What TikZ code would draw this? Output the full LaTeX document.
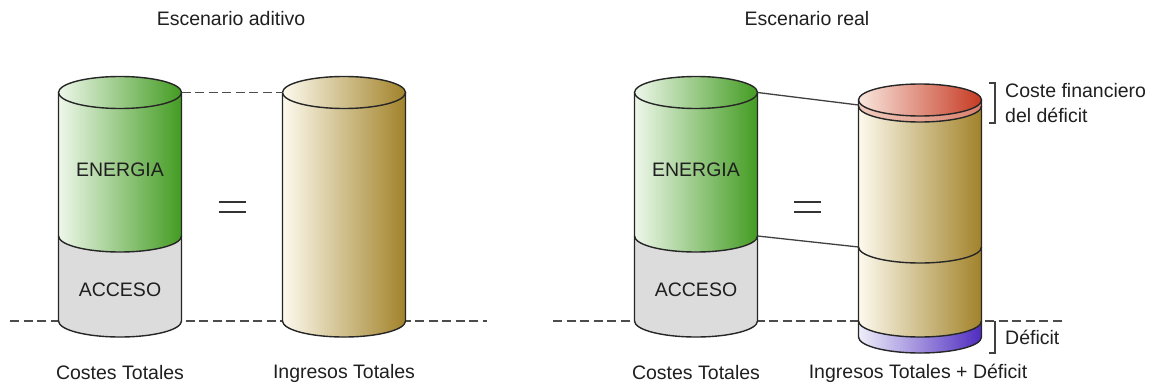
\documentclass[tikz,border=0pt]{standalone}
\usepackage{fontspec}
\setmainfont{Liberation Sans}
\definecolor{gL}{HTML}{EEF7EA}
\definecolor{gR}{HTML}{439C22}
\definecolor{accgrey}{HTML}{DCDCDC}
\definecolor{tL}{HTML}{FDFAEE}
\definecolor{tR}{HTML}{A2832A}
\definecolor{rL}{HTML}{F9E6DE}
\definecolor{rR}{HTML}{C63A22}
\definecolor{pL}{HTML}{EEEEF9}
\definecolor{pR}{HTML}{4F2CC0}
\definecolor{lipL}{HTML}{F2CDBF}
\definecolor{lipR}{HTML}{D9806C}
\begin{document}
\begin{tikzpicture}[x=1pt,y=1pt,
  lbl/.style={font=\fontsize{19.5}{23}\selectfont, text=black!88, inner sep=0pt},
  outl/.style={draw=black!85, line width=1.4pt},
  dsh/.style={draw=black!70, line width=1.3pt, dash pattern=on 9pt off 4.5pt},
  conn/.style={draw=black!75, line width=1.3pt},
  eqs/.style={draw=black!80, line width=1.7pt},
  shgreen/.style={left color=gL, right color=gR},
  shtan/.style={left color=tL, right color=tR},
  shred/.style={left color=rL, right color=rR},
  shlip/.style={left color=lipL, right color=lipR},
  shpurple/.style={left color=pL, right color=pR},
  er/.style={x radius=61.5, y radius=16}
]
\useasboundingbox (0,0) rectangle (1150,-385);

% ---------- dashed baselines ----------
\coordinate (dlA) at (10,-321);
\coordinate (dlB) at (487,-321);
\coordinate (drA) at (553,-321);
\coordinate (drB) at (1062,-321);
\draw[dsh] (dlA) -- (dlB);
\draw[dsh] (drA) -- (drB);

% ---------- cost cylinder macro (cx) ----------
\newcommand\costcyl[2]{%
  \fill[shgreen] ({#1-61.5},-92.5) -- ({#1-61.5},-236)
     arc[start angle=180,end angle=360,er] -- ({#1+61.5},-92.5) -- cycle;
  \fill[accgrey] ({#1-61.5},-236) arc[start angle=180,end angle=360,er]
     -- ({#1+61.5},-321) arc[start angle=0,end angle=-180,er] -- cycle;
  \draw[outl] ({#1-61.5},-92.5) -- ({#1-61.5},-321)
     arc[start angle=180,end angle=360,er] -- ({#1+61.5},-92.5);
  \draw[outl] ({#1-61.5},-236) arc[start angle=180,end angle=360,er];
  \path[shgreen,outl] (#1,-92.5) ellipse[er];
  \coordinate (#2tl) at ({#1-61.5},-92.5);
  \coordinate (#2tr) at ({#1+61.5},-92.5);
  \coordinate (#2mr) at ({#1+61.5},-236);
  \node[lbl] (#2en) at (#1,-170) {ENERGIA};
  \node[lbl] (#2ac) at (#1,-290) {ACCESO};
  \node[lbl] (#2lb) at (#1,-373) {Costes Totales};
}

% ---------- left scenario ----------
\node[lbl] (titleA) at (231,-19) {Escenario aditivo};
\costcyl{120}{ca}

% ingresos cylinder
\fill[shtan] (282.5,-92.5) -- (282.5,-321) arc[start angle=180,end angle=360,er]
   -- (405.5,-92.5) -- cycle;
\draw[outl] (282.5,-92.5) -- (282.5,-321) arc[start angle=180,end angle=360,er] -- (405.5,-92.5);
\path[shtan,outl] (344,-92.5) ellipse[er];
\coordinate (ibtl) at (282.5,-92.5);
\node[lbl] (ibl) at (344,-373) {Ingresos Totales};

\draw[dsh] (catr) -- (ibtl);

\coordinate (eqAa) at (218.5,-201.7);
\coordinate (eqAb) at (245.5,-201.7);
\coordinate (eqAc) at (218.5,-212.3);
\coordinate (eqAd) at (245.5,-212.3);
\draw[eqs] (eqAa) -- (eqAb);
\draw[eqs] (eqAc) -- (eqAd);

% ---------- right scenario ----------
\node[lbl] (titleB) at (807,-19) {Escenario real};
\costcyl{696}{cb}

% purple deficit band
\fill[shpurple] (858.5,-321) -- (858.5,-337) arc[start angle=180,end angle=360,er]
   -- (981.5,-321) -- cycle;
% tan body
\fill[shtan] (858.5,-106) -- (858.5,-321) arc[start angle=180,end angle=360,er]
   -- (981.5,-106) -- cycle;
% lip of red disc
\fill[shlip] (858.5,-100) -- (858.5,-106) arc[start angle=180,end angle=360,er]
   -- (981.5,-100) -- cycle;
\draw[outl] (858.5,-100) -- (858.5,-337) arc[start angle=180,end angle=360,er] -- (981.5,-100);
\draw[outl] (858.5,-106) arc[start angle=180,end angle=360,er];
\draw[outl] (858.5,-247) arc[start angle=180,end angle=360,er];
\draw[outl] (858.5,-321) arc[start angle=180,end angle=360,er];
\path[shred,outl] (920,-100) ellipse[er];
\coordinate (rbt) at (858.5,-105);
\coordinate (rbm) at (858.5,-247);

\draw[conn] (cbtr) -- (rbt);
\draw[conn] (cbmr) -- (rbm);

\coordinate (eqBa) at (794,-201.7);
\coordinate (eqBb) at (821,-201.7);
\coordinate (eqBc) at (794,-212.3);
\coordinate (eqBd) at (821,-212.3);
\draw[eqs] (eqBa) -- (eqBb);
\draw[eqs] (eqBc) -- (eqBd);

% brackets
\coordinate (bAa) at (989,-83);
\coordinate (bAb) at (995,-83);
\coordinate (bAc) at (995,-123);
\coordinate (bAd) at (989,-123);
\draw[conn] (bAa) -- (bAb) -- (bAc) -- (bAd);
\coordinate (bBa) at (989,-321.5);
\coordinate (bBb) at (995,-321.5);
\coordinate (bBc) at (995,-353);
\coordinate (bBd) at (989,-353);
\draw[conn] (bBa) -- (bBb) -- (bBc) -- (bBd);

\node[lbl, anchor=west] (cf1) at (1005,-91) {Coste financiero};
\node[lbl, anchor=west] (cf2) at (1005,-115) {del déficit};
\node[lbl, anchor=west] (df) at (1005,-337) {Déficit};
\node[lbl] (rbl) at (918,-373) {Ingresos Totales + Déficit};
\end{tikzpicture}
\end{document}
